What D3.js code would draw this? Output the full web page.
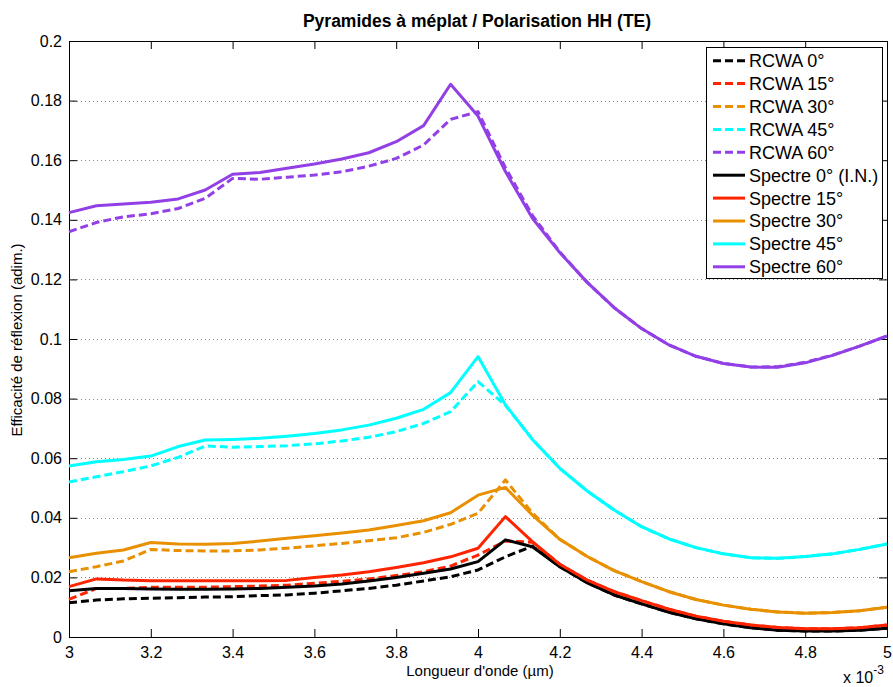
<!DOCTYPE html>
<html><head><meta charset="utf-8">
<script src="https://cdn.jsdelivr.net/npm/d3@7"></script>
<style>
body{margin:0;background:#fff}
svg text{font-family:"Liberation Sans",Arial,Helvetica,sans-serif;fill:#000}
</style>
</head><body><svg id="chart" width="893" height="687"></svg>
<script>
// ---- data ----
const wavelengths = [3.000,3.067,3.133,3.200,3.267,3.333,3.400,3.467,3.533,3.600,3.667,3.733,3.800,3.867,3.933,4.000,
                     4.067,4.133,4.200,4.267,4.333,4.400,4.467,4.533,4.600,4.667,4.733,4.800,4.867,4.933,5.000];

const rcwa0   = [0.0115,0.0124,0.0128,0.0130,0.0132,0.0134,0.0135,0.0139,0.0141,0.0147,0.0155,0.0163,0.0174,0.0188,0.0202,0.0225,
                 0.0269,0.0305,0.0236,0.0182,0.0141,0.0111,0.0083,0.0061,0.0044,0.0031,0.0023,0.0020,0.0020,0.0023,0.0029];
const rcwa15  = [0.0126,0.0163,0.0163,0.0167,0.0167,0.0167,0.0169,0.0171,0.0174,0.0180,0.0187,0.0195,0.0206,0.0219,0.0238,0.0275,
                 0.0322,0.0318,0.0244,0.0191,0.0152,0.0122,0.0093,0.0070,0.0053,0.0040,0.0032,0.0028,0.0028,0.0031,0.0040];
const rcwa30  = [0.0219,0.0236,0.0255,0.0294,0.0290,0.0289,0.0289,0.0292,0.0298,0.0306,0.0314,0.0323,0.0333,0.0351,0.0378,0.0415,
                 0.0527,0.0416,0.0328,0.0270,0.0223,0.0186,0.0152,0.0126,0.0107,0.0093,0.0084,0.0080,0.0082,0.0088,0.0100];
const rcwa45  = [0.0520,0.0538,0.0555,0.0574,0.0603,0.0641,0.0637,0.0639,0.0642,0.0648,0.0658,0.0670,0.0689,0.0717,0.0756,0.0857,
                 0.0778,0.0663,0.0566,0.0490,0.0426,0.0370,0.0329,0.0300,0.0279,0.0266,0.0264,0.0270,0.0279,0.0294,0.0312];
const rcwa60  = [0.1360,0.1391,0.1410,0.1420,0.1438,0.1472,0.1539,0.1536,0.1543,0.1550,0.1561,0.1580,0.1606,0.1651,0.1737,0.1763,
                 0.1575,0.1415,0.1292,0.1190,0.1105,0.1035,0.0980,0.0942,0.0918,0.0906,0.0907,0.0922,0.0946,0.0976,0.1010];
const spectre0  = [0.0155,0.0163,0.0163,0.0161,0.0160,0.0160,0.0161,0.0163,0.0167,0.0171,0.0178,0.0188,0.0200,0.0214,0.0228,0.0253,
                   0.0326,0.0303,0.0236,0.0182,0.0141,0.0111,0.0083,0.0061,0.0044,0.0031,0.0023,0.0020,0.0020,0.0023,0.0029];
const spectre15 = [0.0169,0.0195,0.0191,0.0189,0.0189,0.0189,0.0189,0.0189,0.0190,0.0200,0.0208,0.0219,0.0233,0.0249,0.0269,0.0298,
                   0.0404,0.0320,0.0244,0.0191,0.0152,0.0122,0.0093,0.0070,0.0053,0.0040,0.0032,0.0028,0.0028,0.0031,0.0040];
const spectre30 = [0.0266,0.0281,0.0292,0.0317,0.0312,0.0311,0.0314,0.0322,0.0331,0.0340,0.0349,0.0359,0.0374,0.0390,0.0417,0.0476,
                   0.0502,0.0409,0.0328,0.0270,0.0223,0.0186,0.0152,0.0126,0.0107,0.0093,0.0084,0.0080,0.0082,0.0088,0.0100];
const spectre45 = [0.0574,0.0588,0.0596,0.0607,0.0639,0.0661,0.0663,0.0667,0.0674,0.0683,0.0695,0.0711,0.0734,0.0764,0.0820,0.0941,
                   0.0779,0.0663,0.0566,0.0490,0.0426,0.0370,0.0329,0.0300,0.0279,0.0266,0.0264,0.0270,0.0279,0.0294,0.0312];
const spectre60 = [0.1424,0.1447,0.1453,0.1459,0.1470,0.1500,0.1553,0.1559,0.1573,0.1587,0.1604,0.1625,0.1662,0.1716,0.1855,0.1748,
                   0.1562,0.1405,0.1290,0.1190,0.1105,0.1035,0.0980,0.0942,0.0918,0.0906,0.0905,0.0920,0.0945,0.0976,0.1010];

const seriesNames = ["RCWA 0°","RCWA 15°","RCWA 30°","RCWA 45°","RCWA 60°",
                     "Spectre 0° (I.N.)","Spectre 15°","Spectre 30°","Spectre 45°","Spectre 60°"];
const seriesValues = [rcwa0, rcwa15, rcwa30, rcwa45, rcwa60, spectre0, spectre15, spectre30, spectre45, spectre60];
const xTickValues = [3,3.2,3.4,3.6,3.8,4,4.2,4.4,4.6,4.8,5];
const yTickValues = [0,0.02,0.04,0.06,0.08,0.1,0.12,0.14,0.16,0.18,0.2];
const titleText = "Pyramides à méplat / Polarisation HH (TE)";
const xLabelText = "Longueur d'onde (µm)";
const yLabelText = "Efficacité de réflexion (adim.)";

// ---- styles ----
const palette = ["#000000","#ff2400","#e89000","#00ffff","#9240e6"];
const colorOf = i => palette[i % 5];
const dashedOf = i => i < 5;

// ---- layout ----
const L = 69, R = 887, T = 41, B = 637;
const svg = d3.select("#chart");
svg.append("rect").attr("width",893).attr("height",687).attr("fill","#fff");

const x = d3.scaleLinear().domain([3,5]).range([L,R]);
const y = d3.scaleLinear().domain([0,0.2]).range([B,T]);

// grid (horizontal, dotted)
svg.append("g").selectAll("line")
  .data(yTickValues.filter(v => v > 0 && v < 0.2))
  .join("line")
  .attr("x1",L).attr("x2",R)
  .attr("y1",d => Math.round(y(d))+0.5).attr("y2",d => Math.round(y(d))+0.5)
  .attr("stroke","#8a8a8a").attr("stroke-width",1).attr("stroke-dasharray","1,3");

// axes
const fmt = d => String(+d.toFixed(2));
const axB = svg.append("g").attr("transform",`translate(0,${B})`)
  .call(d3.axisBottom(x).tickValues(xTickValues).tickFormat(fmt).tickSizeInner(-8).tickSizeOuter(0).tickPadding(10));
const axL = svg.append("g").attr("transform",`translate(${L},0)`)
  .call(d3.axisLeft(y).tickValues(yTickValues).tickFormat(fmt).tickSizeInner(-8).tickSizeOuter(0).tickPadding(7));
const axT = svg.append("g").attr("transform",`translate(0,${T})`)
  .call(d3.axisTop(x).tickValues(xTickValues).tickFormat("").tickSizeInner(-8).tickSizeOuter(0));
const axR = svg.append("g").attr("transform",`translate(${R},0)`)
  .call(d3.axisRight(y).tickValues(yTickValues).tickFormat("").tickSizeInner(-8).tickSizeOuter(0));
[axB,axL,axT,axR].forEach(g => {
  g.selectAll("text").style("font-size","16px").attr("fill","#000");
  g.selectAll("line,path").attr("stroke","#000");
  g.attr("font-family",null);
});

// series lines
const line = d3.line().x((d,i) => x(wavelengths[i])).y(d => y(d));
svg.append("g").selectAll("path")
  .data(seriesValues.map((v,i) => ({v,i})))
  .join("path")
  .attr("d",d => line(d.v))
  .attr("fill","none")
  .attr("stroke",d => colorOf(d.i))
  .attr("stroke-width",3)
  .attr("stroke-linejoin","round")
  .attr("stroke-dasharray",d => dashedOf(d.i) ? "8,4" : null);

// legend
const lg = svg.append("g");
lg.append("rect").attr("x",706.5).attr("y",47.5).attr("width",176).attr("height",231)
  .attr("fill","#fff").attr("stroke","#000").attr("stroke-width",1);
const rowY = i => 60.7 + i*22.9;
seriesNames.forEach((name,i) => {
  lg.append("line").attr("x1",713).attr("x2",745).attr("y1",rowY(i)).attr("y2",rowY(i))
    .attr("stroke",colorOf(i)).attr("stroke-width",3)
    .attr("stroke-dasharray",dashedOf(i) ? "8,4" : null);
  lg.append("text").attr("x",749).attr("y",rowY(i)).attr("dy","0.36em")
    .style("font-size","18px").text(name);
});

// titles
svg.append("text").attr("x",477).attr("y",27).attr("text-anchor","middle")
  .style("font-size","17.5px").style("font-weight","bold").text(titleText);
svg.append("text").attr("x",480).attr("y",676).attr("text-anchor","middle")
  .style("font-size","15px").text(xLabelText);
svg.append("text").attr("transform","translate(22,340) rotate(-90)").attr("text-anchor","middle")
  .style("font-size","15px").text(yLabelText);
const ex = svg.append("text").attr("x",843).attr("y",683).style("font-size","16px");
ex.append("tspan").text("x 10");
ex.append("tspan").attr("dy",-9).style("font-size","12px").text("-3");
</script>
</body></html>
